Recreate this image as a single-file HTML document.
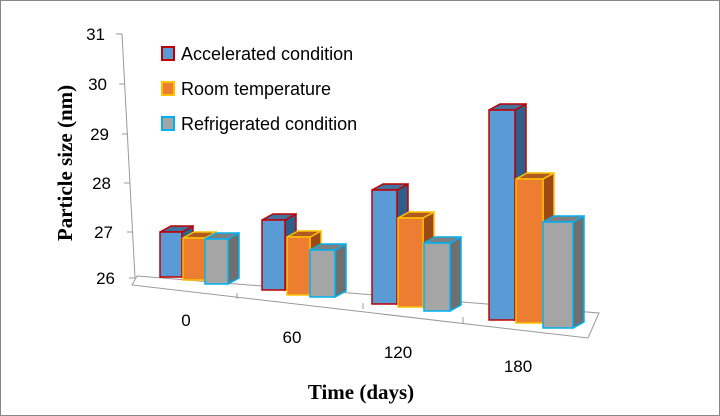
<!DOCTYPE html>
<html><head><style>body{margin:0;background:#fff}svg{display:block}</style></head><body>
<svg width="720" height="416" xmlns="http://www.w3.org/2000/svg" font-family="Liberation Sans, sans-serif">
<rect x="0.5" y="0.5" width="719" height="415" fill="#fff" stroke="#888"/>
<polygon points="137,276 599,313 588,338 132,285" fill="#fff" stroke="#999" stroke-width="1"/>
<line x1="122" y1="34" x2="135" y2="278" stroke="#999"/>
<g stroke="#999"><line x1="116" y1="34" x2="122" y2="34"/><line x1="119" y1="84" x2="125" y2="84"/><line x1="122" y1="134" x2="128" y2="134"/><line x1="124" y1="183" x2="130" y2="183"/><line x1="127" y1="232" x2="133" y2="232"/><line x1="129" y1="278" x2="135" y2="278"/>
<line x1="237" y1="293" x2="237" y2="299"/><line x1="363" y1="303" x2="363" y2="309"/><line x1="463" y1="317" x2="463" y2="323"/></g>
<g font-size="17" fill="#000" text-anchor="end">
<text x="105" y="40">31</text><text x="107" y="90">30</text><text x="109" y="140">29</text><text x="111" y="189">28</text><text x="113" y="238">27</text><text x="115" y="284">26</text></g>
<g font-size="17" text-anchor="middle"><text x="186" y="326">0</text><text x="292" y="343">60</text><text x="398" y="358">120</text><text x="518" y="372">180</text></g>
<g stroke-width="1.5">
<g fill="#5b9bd5" stroke="#c00000">
<polygon points="182,232 193,226 193,271 182,277" fill="#2e5e8a"/><polygon points="160,232 171,226 193,226 182,232" fill="#41719c"/><rect x="160" y="232" width="22" height="45"/>
<polygon points="285,220 296,214 296,284 285,290" fill="#2e5e8a"/><polygon points="262,220 273,214 296,214 285,220" fill="#41719c"/><rect x="262" y="220" width="23" height="70"/>
<polygon points="397,190 408,184 408,298 397,304" fill="#2e5e8a"/><polygon points="372,190 383,184 408,184 397,190" fill="#41719c"/><rect x="372" y="190" width="25" height="114"/>
<polygon points="515,110 526,104 526,314 515,320" fill="#2e5e8a"/><polygon points="489,110 500,104 526,104 515,110" fill="#41719c"/><rect x="489" y="110" width="26" height="210"/>
</g>
<g fill="#ed7d31" stroke="#ffc000">
<polygon points="205,238 216,232 216,274 205,280" fill="#9c4a15"/><polygon points="183,238 194,232 216,232 205,238" fill="#ae5a21"/><rect x="183" y="238" width="22" height="42"/>
<polygon points="310,237 321,231 321,289 310,295" fill="#9c4a15"/><polygon points="287,237 298,231 321,231 310,237" fill="#ae5a21"/><rect x="287" y="237" width="23" height="58"/>
<polygon points="423,218 434,212 434,301 423,307" fill="#9c4a15"/><polygon points="398,218 409,212 434,212 423,218" fill="#ae5a21"/><rect x="398" y="218" width="25" height="89"/>
<polygon points="543,179 554,173 554,317 543,323" fill="#9c4a15"/><polygon points="516,179 527,173 554,173 543,179" fill="#ae5a21"/><rect x="516" y="179" width="27" height="144"/>
</g>
<g fill="#a5a5a5" stroke="#00b0f0">
<polygon points="228,239 239,233 239,278 228,284" fill="#6f6f6f"/><polygon points="205,239 216,233 239,233 228,239" fill="#7f7f7f"/><rect x="205" y="239" width="23" height="45"/>
<polygon points="335,250 346,244 346,291 335,297" fill="#6f6f6f"/><polygon points="310,250 321,244 346,244 335,250" fill="#7f7f7f"/><rect x="310" y="250" width="25" height="47"/>
<polygon points="450,243 461,237 461,305 450,311" fill="#6f6f6f"/><polygon points="424,243 435,237 461,237 450,243" fill="#7f7f7f"/><rect x="424" y="243" width="26" height="68"/>
<polygon points="573,222 584,216 584,322 573,328" fill="#6f6f6f"/><polygon points="543,222 554,216 584,216 573,222" fill="#7f7f7f"/><rect x="543" y="222" width="30" height="106"/>
</g>
</g>
<g font-size="18"><rect x="162" y="47" width="12" height="13" fill="#5b9bd5" stroke="#c00000" stroke-width="2"/><text x="181" y="60">Accelerated condition</text>
<rect x="162" y="82" width="12" height="13" fill="#ed7d31" stroke="#ffc000" stroke-width="2"/><text x="181" y="95">Room temperature</text>
<rect x="162" y="117" width="12" height="13" fill="#a5a5a5" stroke="#00b0f0" stroke-width="2"/><text x="181" y="130">Refrigerated condition</text></g>
<text transform="translate(72,163) rotate(-90)" text-anchor="middle" font-family="Liberation Serif, serif" font-weight="bold" font-size="21">Particle size (nm)</text>
<text x="361" y="399" text-anchor="middle" font-family="Liberation Serif, serif" font-weight="bold" font-size="21">Time (days)</text>
</svg></body></html>
